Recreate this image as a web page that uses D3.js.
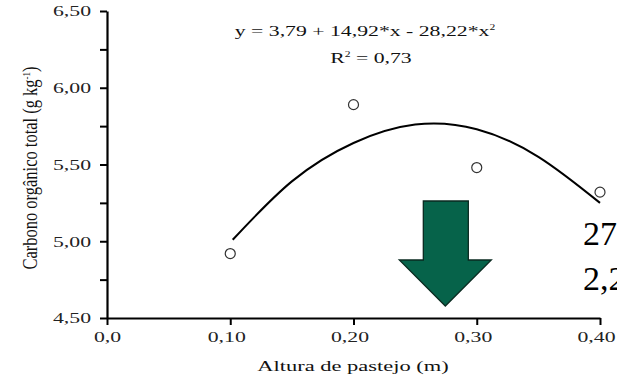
<!DOCTYPE html>
<html>
<head>
<meta charset="utf-8">
<script src="https://cdn.jsdelivr.net/npm/d3@7"></script>
<style>
  body { margin: 0; background: #fff; }
  text { font-family: 'Liberation Serif', 'Times New Roman', 'DejaVu Serif', serif !important; }
</style>
</head>
<body>
<svg id="chart" width="617" height="375"></svg>
<script>
// observed points
var alturas = [0.10, 0.20, 0.30, 0.40];
var carbono = [4.92, 5.89, 5.48, 5.32];

// fitted curve
var curvaX = [0.102, 0.15, 0.20, 0.25, 0.30, 0.35, 0.40];
var curvaY = [5.01, 5.39, 5.64, 5.76, 5.73, 5.55, 5.25];

var yTicks = [4.50, 4.75, 5.00, 5.25, 5.50, 5.75, 6.00, 6.25, 6.50];
var yLabels = ["4,50", "", "5,00", "", "5,50", "", "6,00", "", "6,50"];
var xTicks = [0.0, 0.10, 0.20, 0.30, 0.40];
var xLabels = ["0,0", "0,10", "0,20", "0,30", "0,40"];

var margin = {top: 11, right: 17, bottom: 57, left: 107};
var width = 617, height = 375;
// the original figure was stretched sideways
var sx = 1.45;

var svg = d3.select('#chart');

var xScale = d3.scaleLinear().domain([0, 0.40]).range([margin.left, width - margin.right]);
var yScale = d3.scaleLinear().domain([4.50, 6.50]).range([height - margin.bottom, margin.top]);

var yAxis = d3.axisLeft(yScale)
    .tickValues(yTicks)
    .tickSize(7)
    .tickSizeOuter(0)
    .tickPadding(9)
    .tickFormat(function(d, i) { return yLabels[i]; });

var xAxis = d3.axisBottom(xScale)
    .tickValues(xTicks)
    .tickSize(7)
    .tickSizeOuter(0)
    .tickPadding(6)
    .tickFormat(function(d, i) { return xLabels[i]; });

var gy = svg.append('g')
    .attr('transform', 'translate(' + margin.left + ',0)')
    .call(yAxis);

var gx = svg.append('g')
    .attr('transform', 'translate(0,' + (height - margin.bottom) + ')')
    .call(xAxis);

[gx, gy].forEach(function(g) {
    g.attr('font-family', null);
    g.select('.domain').attr('stroke', '#000').attr('stroke-width', 2.2);
    g.selectAll('.tick line').attr('stroke', '#000').attr('stroke-width', 2);
    g.selectAll('.tick text')
        .attr('fill', '#222')
        .style('font-size', '15px');
});
// stretch tick labels sideways, keep their anchor point
gy.selectAll('.tick text')
    .attr('x', -16 / sx)
    .attr('transform', 'scale(' + sx + ',1)');
gx.selectAll('.tick text')
    .attr('x', function(d, i) { return (i === 0 ? 0 : -4) / sx; })
    .attr('transform', 'scale(' + sx + ',1)');

function addText(x, y, anchor, size, content) {
    return svg.append('text')
        .attr('transform', 'translate(' + x + ',' + y + ') scale(' + sx + ',1)')
        .attr('text-anchor', anchor)
        .style('font-size', size + 'px')
        .attr('fill', '#111')
        .html(content);
}

// axis titles
addText(353, 371, 'middle', 15.5, 'Altura de pastejo (m)');

var yTitle = svg.append('text')
    .attr('transform', 'translate(37,168) rotate(-90) scale(1,1.25)')
    .attr('text-anchor', 'middle')
    .style('font-size', '16.5px')
    .attr('fill', '#111');
yTitle.append('tspan').text('Carbono orgânico total (g kg');
yTitle.append('tspan').attr('dy', -6).style('font-size', '9px').text('-1');
yTitle.append('tspan').attr('dy', 6).text(')');

// fitted curve
var curveData = curvaX.map(function(x, i) { return {x: x, y: curvaY[i]}; });
var line = d3.line()
    .x(function(d) { return xScale(d.x); })
    .y(function(d) { return yScale(d.y); })
    .curve(d3.curveNatural);

svg.append('path')
    .datum(curveData)
    .attr('fill', 'none')
    .attr('stroke', '#000')
    .attr('stroke-width', 2)
    .attr('d', line);

// points
var pts = alturas.map(function(x, i) { return {x: x, y: carbono[i]}; });
svg.selectAll('.pt')
    .data(pts)
    .enter()
    .append('circle')
    .attr('class', 'pt')
    .attr('cx', function(d) { return xScale(d.x); })
    .attr('cy', function(d) { return yScale(d.y); })
    .attr('r', 5)
    .attr('fill', '#fff')
    .attr('stroke', '#333')
    .attr('stroke-width', 1.2);

// equation
addText(365, 36, 'middle', 15, 'y = 3,79 + 14,92*x - 28,22*x<tspan dy="-6" font-size="8">2</tspan>');
addText(371, 63, 'middle', 15, 'R<tspan dy="-6" font-size="8">2</tspan><tspan dy="6"> = 0,73</tspan>');

// big green arrow annotation
var tipX = xScale(0.2745), tipY = 306;
var arrow = [
    [tipX - 22, 201], [tipX + 23, 201], [tipX + 23, 260], [tipX + 46, 260],
    [tipX, tipY], [tipX - 46, 260], [tipX - 22, 260]
];
svg.append('path')
    .attr('d', 'M' + arrow.map(function(p) { return p.join(','); }).join('L') + 'Z')
    .attr('fill', '#06634a')
    .attr('stroke', '#0a2a20')
    .attr('stroke-width', 1.3);

// clipped side text (not stretched)
svg.append('text')
    .attr('x', 583).attr('y', 245)
    .style('font-size', '34px')
    .attr('fill', '#000')
    .text('27');
svg.append('text')
    .attr('x', 583).attr('y', 290)
    .style('font-size', '34px')
    .attr('fill', '#000')
    .text('2,2');
</script>
</body>
</html>
